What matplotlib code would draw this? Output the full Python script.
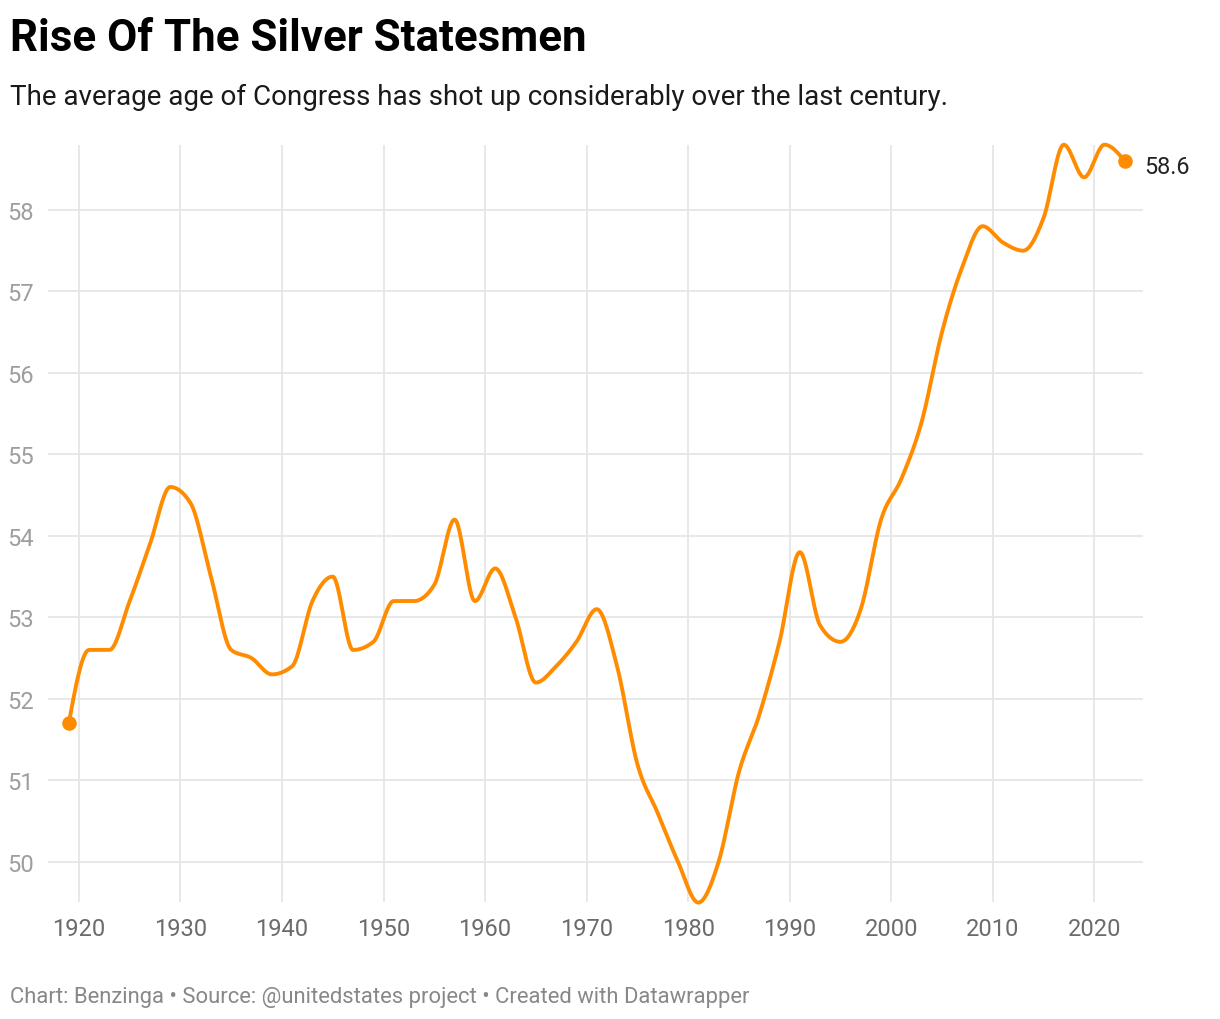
import numpy as np
import matplotlib
matplotlib.use("Agg")
import matplotlib.pyplot as plt

plt.rcParams["font.family"] = ["Roboto", "DejaVu Sans"]

# average age of Congress, one value per Congress (odd years)
years = list(range(1919, 2024, 2))
avg_age = [51.7, 52.6, 52.6, 53.2, 53.9, 54.6, 54.4, 53.5, 52.6, 52.5,
           52.3, 52.4, 53.2, 53.5, 52.6, 52.7, 53.2, 53.2, 53.4, 54.2,
           53.2, 53.6, 53.0, 52.2, 52.4, 52.7, 53.1, 52.4, 51.2, 50.6,
           50.0, 49.5, 50.0, 51.1, 51.8, 52.7, 53.8, 52.9, 52.7, 53.1,
           54.2, 54.7, 55.4, 56.5, 57.3, 57.8, 57.6, 57.5, 57.9, 58.8,
           58.4, 58.8, 58.6]
x_ticks = [1920, 1930, 1940, 1950, 1960, 1970, 1980, 1990, 2000, 2010, 2020]
y_ticks = [50, 51, 52, 53, 54, 55, 56, 57, 58]

ORANGE = "#ff8c00"


def monotone_x(x, y, n=30):
    # same idea as d3.curveMonotoneX (Steffen slopes + cubic hermite)
    x = np.asarray(x, float)
    y = np.asarray(y, float)
    h = np.diff(x)
    s = np.diff(y) / h
    t = np.zeros_like(y)
    for i in range(1, len(y) - 1):
        p = (s[i - 1] * h[i] + s[i] * h[i - 1]) / (h[i - 1] + h[i])
        t[i] = (np.sign(s[i - 1]) + np.sign(s[i])) * min(abs(s[i - 1]), abs(s[i]), 0.5 * abs(p))
    t[0] = (3 * s[0] - t[1]) / 2
    t[-1] = (3 * s[-1] - t[-2]) / 2
    xs, ys = [], []
    for i in range(len(x) - 1):
        u = np.linspace(0, 1, n, endpoint=False)
        h00 = 2 * u**3 - 3 * u**2 + 1
        h10 = u**3 - 2 * u**2 + u
        h01 = -2 * u**3 + 3 * u**2
        h11 = u**3 - u**2
        xs.append(x[i] + u * h[i])
        ys.append(h00 * y[i] + h10 * h[i] * t[i] + h01 * y[i + 1] + h11 * h[i] * t[i + 1])
    xs.append([x[-1]])
    ys.append([y[-1]])
    return np.concatenate(xs), np.concatenate(ys)


fig = plt.figure(figsize=(12.2, 10.2), dpi=100)
ax = fig.add_axes([0.0393, 0.1147, 0.8976, 0.7422])

sx, sy = monotone_x(years, avg_age)
ax.plot(sx, sy, color=ORANGE, lw=2.8, clip_on=False, zorder=3, solid_capstyle="round")
ax.plot([years[0], years[-1]], [avg_age[0], avg_age[-1]], "o", color=ORANGE,
        ms=9.5, clip_on=False, zorder=4)
ax.annotate(f"{avg_age[-1]:.1f}", (years[-1], avg_age[-1]), xytext=(14, -4),
            textcoords="offset points", va="center", ha="left",
            fontsize=16.8, color="#222222")

ax.set_xlim(1916.95, 2024.8)
ax.set_ylim(49.507, 58.797)
ax.set_xticks(x_ticks)
ax.set_yticks(y_ticks)
ax.grid(True, color="#e6e6e6", lw=1.3)
ax.set_axisbelow(True)
for sp in ax.spines.values():
    sp.set_visible(False)
ax.tick_params(axis="x", length=0, pad=11, labelsize=17, labelcolor="#6b6b6b")
ax.tick_params(axis="y", length=0, pad=10, labelsize=17, labelcolor="#9e9e9e")

fig.text(0.0082, 0.95, "Rise Of The Silver Statesmen", fontsize=31.6,
         fontweight="bold", color="#000000", va="baseline")
fig.text(0.0082, 0.897, "The average age of Congress has shot up considerably over the last century.",
         fontsize=20, color="#1a1a1a", va="baseline")
fig.text(0.0082, 0.0167, "Chart: Benzinga \u2022 Source: @unitedstates project \u2022 Created with Datawrapper",
         fontsize=15.8, color="#888888", va="baseline")

fig.savefig("out.png", dpi=100)
